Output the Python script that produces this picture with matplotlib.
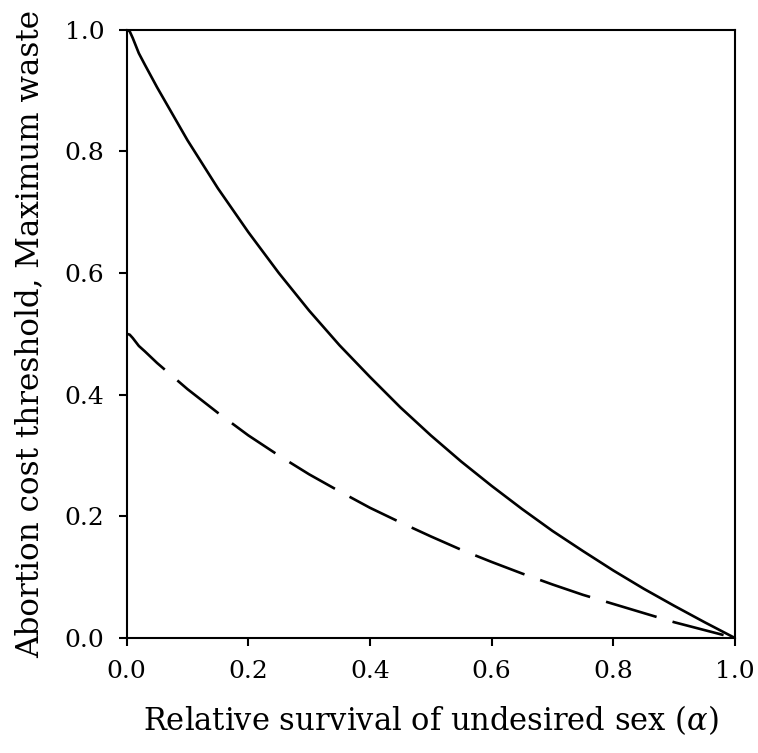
import matplotlib
matplotlib.use("Agg")
import matplotlib.pyplot as plt

alpha = [0.0, 0.005, 0.01, 0.02, 0.03, 0.05, 0.10, 0.15, 0.20, 0.25, 0.30,
         0.35, 0.40, 0.45, 0.50, 0.55, 0.60, 0.65, 0.70, 0.75, 0.80, 0.85, 0.90,
         0.95, 1.0]
cost_threshold = [1.0, 0.997, 0.986, 0.961, 0.942, 0.905, 0.818, 0.739,
                  0.667, 0.600, 0.538, 0.481, 0.429, 0.379, 0.333, 0.290, 0.250,
                  0.212, 0.176, 0.143, 0.111, 0.081, 0.053, 0.026, 0.0]
max_waste = [0.5, 0.4985, 0.493, 0.480, 0.471, 0.452, 0.409, 0.370,
             0.333, 0.300, 0.269, 0.241, 0.214, 0.190, 0.167, 0.145, 0.125,
             0.106, 0.088, 0.071, 0.056, 0.041, 0.026, 0.013, 0.0]
ticks = [0.0, 0.2, 0.4, 0.6, 0.8, 1.0]

plt.rcParams['font.family'] = ['DejaVu Serif']
plt.rcParams['mathtext.fontset'] = 'dejavuserif'

fig = plt.figure(figsize=(7.58, 7.53), dpi=100)
ax = fig.add_axes([0.1671, 0.1527, 0.8025, 0.8081])

ax.plot(alpha, cost_threshold, color='black', lw=1.9, solid_capstyle='butt',
        solid_joinstyle='round')
ax.plot(alpha, max_waste, color='black', lw=1.9, linestyle=(0, (20, 6.3)),
        dash_capstyle='butt', dash_joinstyle='round')

ax.set_xlim(0, 1)
ax.set_ylim(0, 1)
ax.set_xticks(ticks)
ax.set_yticks(ticks)
ax.set_xticklabels([f"{t:.1f}" for t in ticks])
ax.set_yticklabels([f"{t:.1f}" for t in ticks])
ax.tick_params(direction='out', length=6, width=1.5, labelsize=18, pad=10)
for s in ax.spines.values():
    s.set_linewidth(1.5)

ax.set_xlabel(r"Relative survival of undesired sex ($\alpha$)", fontsize=22, labelpad=14)
ax.set_ylabel("Abortion cost threshold, Maximum waste", fontsize=22.3, labelpad=14)

fig.savefig("out.png", dpi=100)
